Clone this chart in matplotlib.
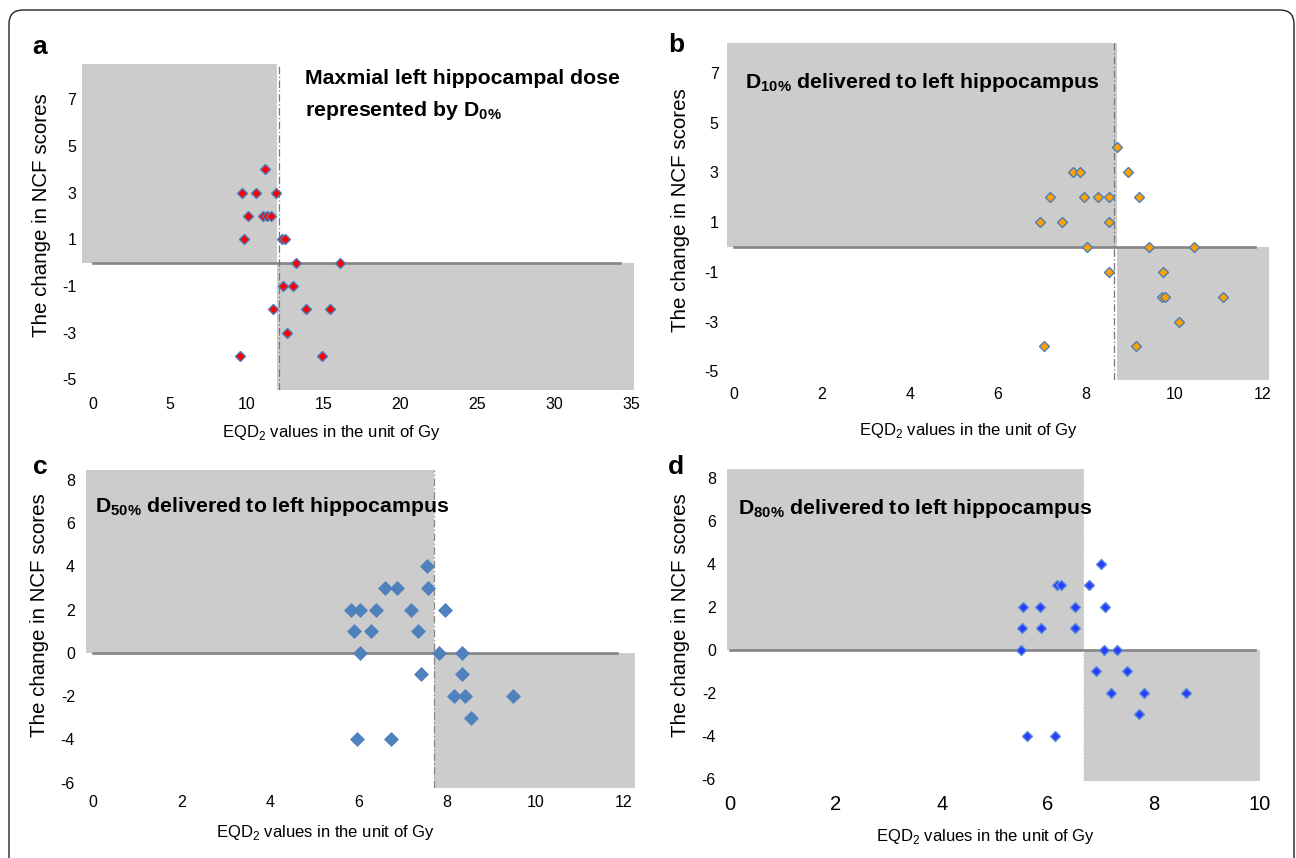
import matplotlib
matplotlib.use("Agg")
import matplotlib.pyplot as plt
from matplotlib.patches import FancyBboxPatch

plt.rcParams['font.family'] = ['Liberation Sans', 'DejaVu Sans']
plt.rcParams['mathtext.fontset'] = 'custom'
plt.rcParams['mathtext.rm'] = 'Liberation Sans'
plt.rcParams['mathtext.bf'] = 'Liberation Sans:bold'
plt.rcParams['axes.unicode_minus'] = False

# EQD2 (Gy) vs change in NCF score
a_x = [11.22, 9.69, 10.60, 11.94, 10.09, 11.08, 11.36, 11.60, 9.81, 12.32, 12.52,
       13.19, 16.06, 12.37, 13.02, 11.70, 13.86, 15.44, 12.61, 9.57, 14.94]
a_y = [4, 3, 3, 3, 2, 2, 2, 2, 1, 1, 1, 0, 0, -1, -1, -2, -2, -2, -3, -4, -4]

b_x = [8.71, 7.70, 7.85, 8.94, 7.17, 7.95, 8.28, 8.51, 9.20, 6.95, 7.46, 8.53,
       8.03, 9.42, 10.45, 8.53, 9.75, 9.72, 9.80, 11.10, 10.11, 7.04, 9.13]
b_y = [4, 3, 3, 3, 2, 2, 2, 2, 2, 1, 1, 1, 0, 0, 0, -1, -1, -2, -2, -2, -3, -4, -4]

c_x = [7.55, 6.60, 6.87, 7.58, 5.83, 6.03, 6.40, 7.20, 7.96, 5.91, 6.29, 7.34,
       6.04, 7.82, 8.34, 7.42, 8.34, 8.17, 8.42, 9.50, 8.54, 5.97, 6.73]
c_y = [4, 3, 3, 3, 2, 2, 2, 2, 2, 1, 1, 1, 0, 0, 0, -1, -1, -2, -2, -2, -3, -4, -4]

d_x = [7.00, 6.17, 6.25, 6.78, 5.54, 5.85, 6.52, 7.08, 5.52, 5.87, 6.52,
       5.50, 7.06, 7.30, 6.91, 7.50, 7.19, 7.82, 8.61, 7.72, 5.60, 6.13]
d_y = [4, 3, 3, 3, 2, 2, 2, 2, 1, 1, 1, 0, 0, 0, -1, -1, -2, -2, -2, -3, -4, -4]

# thresholds (gray quadrant split / dash-dot line) and zero line extents
a_split, a_dash, a_zero_end = 12.0, 12.13, 34.3
b_split, b_dash, b_zero_end = 8.69, 8.63, 11.83
c_split, c_dash, c_zero_end = 7.70, 7.70, 11.84
d_split, d_dash, d_zero_end = 6.68, 6.66, 9.90

a_xticks = [0, 5, 10, 15, 20, 25, 30, 35]
b_xticks = [0, 2, 4, 6, 8, 10, 12]
c_xticks = [0, 2, 4, 6, 8, 10, 12]
d_xticks = [0, 2, 4, 6, 8, 10]
ab_yticks = [-5, -3, -1, 1, 3, 5, 7]
cd_yticks = [-6, -4, -2, 0, 2, 4, 6, 8]

W, H = 1296, 858
fig = plt.figure(figsize=(W / 100, H / 100), dpi=100)
fig.patch.set_facecolor('white')

border = FancyBboxPatch((9, -40), 1285, 888, boxstyle="round,pad=0,rounding_size=14",
                        transform=None, facecolor='none', edgecolor='#222222', linewidth=1.0)
fig.patches.append(border)

GRAY = '#cccccc'


def px_axes(x0, x1, y0, y1):
    # pixel box (top-left origin) -> figure axes
    return fig.add_axes([x0 / W, (H - y1) / H, (x1 - x0) / W, (y1 - y0) / H])


def panel(ax, xs, ys, xlim, ylim, split, dash, zero_end, xticks, yticks,
          face, edge, ms, mew, xfs=11.5, xpad=5, ypad=5, dash_color='#777777', dash_ls=(0, (6, 2, 1, 2))):
    ax.set_xlim(*xlim)
    ax.set_ylim(*ylim)
    ax.fill_between([xlim[0], split], 0, ylim[1], color=GRAY, lw=0, zorder=0)
    ax.fill_between([split, xlim[1]], ylim[0], 0, color=GRAY, lw=0, zorder=0)
    ax.plot([0, zero_end], [0, 0], color='#858585', lw=1.9, zorder=1)
    ax.axvline(dash, color=dash_color, lw=0.9, ls=dash_ls, zorder=1)
    ax.plot(xs, ys, ls='none', marker='D', ms=ms, mfc=face, mec=edge, mew=mew, zorder=3)
    for s in ax.spines.values():
        s.set_visible(False)
    ax.set_xticks(xticks)
    ax.set_yticks(yticks)
    ax.tick_params(axis='x', length=0, labelsize=xfs, pad=xpad)
    ax.tick_params(axis='y', length=0, labelsize=11.5, pad=ypad)
    ax.set_facecolor('none')


ax_a = px_axes(82, 634, 64, 390)
panel(ax_a, a_x, a_y, (-0.7, 35.2), (-5.45, 8.5), a_split, a_dash, a_zero_end,
      a_xticks, ab_yticks, 'red', '#4a7ebb', 5.0, 1.0, ypad=4)

ax_b = px_axes(727, 1269, 43, 380)
panel(ax_b, b_x, b_y, (-0.15, 12.15), (-5.35, 8.2), b_split, b_dash, b_zero_end,
      b_xticks, ab_yticks, '#ffa000', '#4a7ebb', 5.4, 1.0, ypad=6)

ax_c = px_axes(86, 635, 470, 788)
panel(ax_c, c_x, c_y, (-0.15, 12.25), (-6.25, 8.45), c_split, c_dash, c_zero_end,
      c_xticks, cd_yticks, '#4f81bd', '#4f81bd', 6.8, 0.5, ypad=8, dash_color='#888888')

ax_d = px_axes(727, 1260, 469, 781)
panel(ax_d, d_x, d_y, (-0.05, 10.0), (-6.1, 8.4), d_split, d_dash, d_zero_end,
      d_xticks, cd_yticks, '#2a3cff', '#5b8fd6', 5.0, 1.0, xfs=14.5, xpad=10, ypad=8,
      dash_color='#dddddd', dash_ls=':')

# panel letters
for lbl, (px, py) in zip('abcd', [(40, 47), (676, 45), (40, 467), (676, 467)]):
    fig.text(px / W, 1 - py / H, lbl, fontsize=19, fontweight='bold', ha='center', va='center')

# axis labels
xl = "EQD$_2$ values in the unit of Gy"
yl = "The change in NCF scores"
for (cx, cy) in [(331, 432), (968, 430), (325, 833), (985, 836)]:
    fig.text(cx / W, 1 - cy / H, xl, fontsize=12, ha='center', va='center')
for (cx, cy) in [(42, 215), (680, 210), (40, 615), (680, 615)]:
    fig.text(cx / W, 1 - cy / H, yl, fontsize=14.8, ha='center', va='center', rotation=90)

# panel titles
tkw = dict(fontsize=15.3, fontweight='bold', ha='left', va='center')
fig.text(305 / W, 1 - 78 / H, "Maxmial left hippocampal dose", **tkw)
fig.text(305 / W, 1 - 110 / H, r"represented by $\mathbf{D_{0\%}}$", **tkw)
fig.text(745 / W, 1 - 83 / H, r"$\mathbf{D_{10\%}}$ delivered to left hippocampus", **tkw)
fig.text(95 / W, 1 - 507 / H, r"$\mathbf{D_{50\%}}$ delivered to left hippocampus", **tkw)
fig.text(738 / W, 1 - 509 / H, r"$\mathbf{D_{80\%}}$ delivered to left hippocampus", **tkw)

fig.savefig('out.png', dpi=100)
